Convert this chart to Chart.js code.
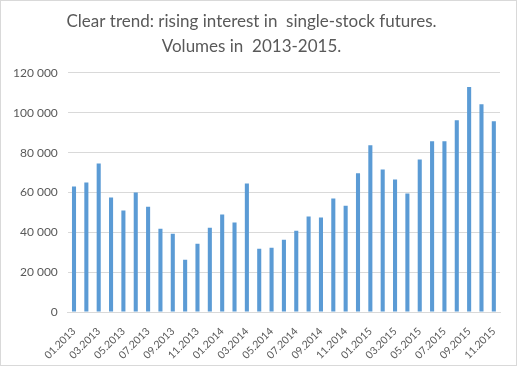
<!DOCTYPE html>
<html>
<head>
<meta charset="utf-8">
<script src="https://cdn.jsdelivr.net/npm/chart.js@4"></script>
<style>
    html, body { margin: 0; padding: 0; background: #fff; }
    #wrap {
        position: relative;
        width: 515px;
        height: 364px;
        border: 1px solid #d9d9d9;
    }
</style>
</head>
<body>
<div id="wrap"><canvas id="chart"></canvas></div>
<script>
const months = [
    '01.2013', '02.2013', '03.2013', '04.2013', '05.2013', '06.2013', '07.2013', '08.2013', '09.2013', '10.2013', '11.2013', '12.2013',
    '01.2014', '02.2014', '03.2014', '04.2014', '05.2014', '06.2014', '07.2014', '08.2014', '09.2014', '10.2014', '11.2014', '12.2014',
    '01.2015', '02.2015', '03.2015', '04.2015', '05.2015', '06.2015', '07.2015', '08.2015', '09.2015', '10.2015', '11.2015'
];
const volumes = [
    63000, 65000, 74600, 57500, 50900, 60000, 52900, 41800, 39300, 26200, 34300, 42300,
    48900, 44900, 64500, 31800, 32300, 36300, 40800, 47900, 47400, 57000, 53400, 69600,
    83700, 71600, 66500, 59500, 76600, 85700, 85700, 96300, 112900, 104300, 95800
];
const titleLines = ['Clear trend: rising interest in  single-stock futures.', 'Volumes in  2013-2015.'];
const yMax = 120000;
const yStep = 20000;

const fmt = v => String(v).replace(/\B(?=(\d{3})+(?!\d))/g, ' ');

new Chart(document.getElementById('chart').getContext('2d'), {
    type: 'bar',
    data: {
        labels: months,
        datasets: [{
            data: volumes,
            backgroundColor: '#5B9BD5',
            borderWidth: 0,
            barPercentage: 0.6,
            categoryPercentage: 0.55,
        }]
    },
    options: {
        responsive: true,
        maintainAspectRatio: false,
        animation: false,
        layout: { padding: { top: 2, right: 16, bottom: 3, left: 2 } },
        plugins: {
            legend: { display: false },
            tooltip: { enabled: false },
            title: {
                display: true,
                text: titleLines,
                color: '#595959',
                font: { family: 'Lato', size: 17, weight: 'normal', lineHeight: 1.47 },
                padding: { top: 6, bottom: 14 },
            }
        },
        scales: {
            x: {
                grid: { display: false },
                border: { color: '#d9d9d9' },
                afterFit: function (axis) {
                    // fixed label strip, no extra side padding for the rotated first label
                    axis.height = 50;
                    axis.paddingLeft = 0;
                    axis.paddingRight = 0;
                },
                ticks: {
                    autoSkip: false,
                    maxRotation: 45,
                    minRotation: 45,
                    color: '#595959',
                    font: { family: 'Lato', size: 10.5 },
                    padding: 5,
                    callback: function (val, i) {
                        return i % 2 === 0 ? months[i] : '';
                    }
                }
            },
            y: {
                min: 0,
                max: yMax,
                grid: { color: '#d9d9d9', drawTicks: false },
                border: { display: false },
                ticks: {
                    stepSize: yStep,
                    color: '#595959',
                    font: { family: 'Lato', size: 12 },
                    padding: 10,
                    callback: v => fmt(v)
                }
            }
        }
    }
});
</script>
</body>
</html>
